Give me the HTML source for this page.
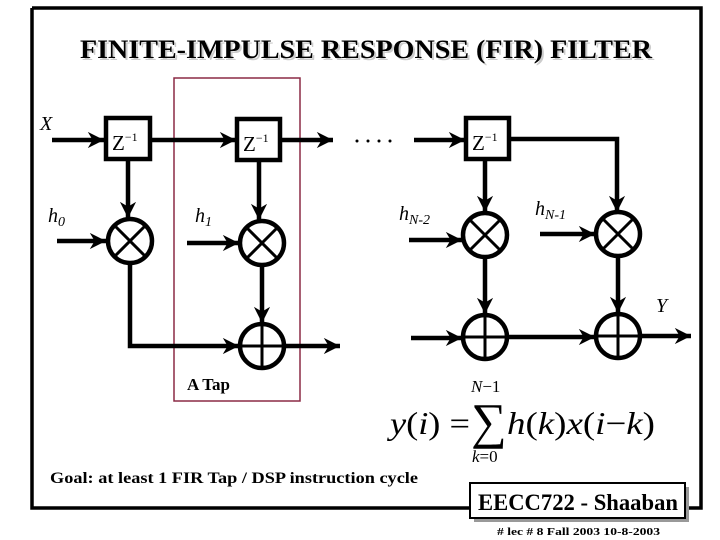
<!DOCTYPE html>
<html><head><meta charset="utf-8"><style>
html,body{margin:0;padding:0;background:#fff;}
svg{display:block;}
text{font-family:"Liberation Serif",serif;}
</style></head><body>
<svg width="720" height="540" viewBox="0 0 720 540" xmlns="http://www.w3.org/2000/svg">
<defs>
<marker id="ah" viewBox="0 0 10 10" refX="10" refY="5" markerWidth="4.2" markerHeight="3.6" markerUnits="strokeWidth" orient="auto">
<path d="M0,0 L10,5 L0,10 L3,5 z" fill="#000"/>
</marker>
</defs>
<path d="M32,8 H701 V508 H685 M470,508 H32 V8" fill="none" stroke="#000" stroke-width="3.5"/>
<text x="80" y="58" font-size="26" font-weight="bold" fill="#ccc" transform="translate(2,2)" textLength="572" lengthAdjust="spacingAndGlyphs">FINITE-IMPULSE RESPONSE (FIR) FILTER</text>
<text x="80" y="58" font-size="26" font-weight="bold" textLength="572" lengthAdjust="spacingAndGlyphs">FINITE-IMPULSE RESPONSE (FIR) FILTER</text>
<rect x="174" y="78" width="126" height="323" fill="none" stroke="#8b2a45" stroke-width="1.5"/>
<g stroke="#000" stroke-width="4.5" fill="none">
<line x1="52" y1="140" x2="104" y2="140" marker-end="url(#ah)"/>
<line x1="151" y1="140" x2="236" y2="140" marker-end="url(#ah)"/>
<line x1="280" y1="140" x2="333" y2="140" marker-end="url(#ah)"/>
<line x1="414" y1="140" x2="465" y2="140" marker-end="url(#ah)"/>
<polyline points="510,139 617,139 617,212" marker-end="url(#ah)"/>
<rect x="106" y="118" width="44" height="41" fill="#fff"/>
<rect x="237" y="119" width="43" height="41" fill="#fff"/>
<rect x="466" y="118" width="43" height="41" fill="#fff"/>
<line x1="128" y1="161" x2="128" y2="218" marker-end="url(#ah)"/>
<line x1="259" y1="162" x2="259" y2="220" marker-end="url(#ah)"/>
<line x1="485" y1="161" x2="485" y2="212" marker-end="url(#ah)"/>
<line x1="57" y1="241" x2="106" y2="241" marker-end="url(#ah)"/>
<line x1="187" y1="243" x2="239" y2="243" marker-end="url(#ah)"/>
<line x1="409" y1="240" x2="462" y2="240" marker-end="url(#ah)"/>
<line x1="540" y1="234" x2="595" y2="234" marker-end="url(#ah)"/>
<circle cx="130" cy="241" r="22" fill="#fff"/>
<circle cx="262" cy="243" r="22" fill="#fff"/>
<circle cx="485" cy="235" r="22" fill="#fff"/>
<circle cx="618" cy="234" r="22" fill="#fff"/>
<polyline points="130,263 130,346 239,346" marker-end="url(#ah)"/>
<line x1="262" y1="265" x2="262" y2="323" marker-end="url(#ah)"/>
<line x1="485" y1="257" x2="485" y2="314" marker-end="url(#ah)"/>
<line x1="618" y1="256" x2="618" y2="313" marker-end="url(#ah)"/>
<line x1="284" y1="346" x2="340" y2="346" marker-end="url(#ah)"/>
<line x1="411" y1="338" x2="462" y2="338" marker-end="url(#ah)"/>
<line x1="507" y1="337" x2="595" y2="337" marker-end="url(#ah)"/>
<line x1="640" y1="336" x2="691" y2="336" marker-end="url(#ah)"/>
<circle cx="262" cy="346" r="22" fill="#fff"/>
<circle cx="485" cy="337" r="22" fill="#fff"/>
<circle cx="618" cy="336" r="22" fill="#fff"/>
</g>
<g stroke="#000" stroke-width="3">
<path d="M115,226 L145,256 M145,226 L115,256"/>
<path d="M247,228 L277,258 M277,228 L247,258"/>
<path d="M470,220 L500,250 M500,220 L470,250"/>
<path d="M603,219 L633,249 M633,219 L603,249"/>
<path d="M262,324 V368 M240,346 H284"/>
<path d="M485,315 V359 M463,337 H507"/>
<path d="M618,314 V358 M596,336 H640"/>
</g>
<g fill="#000">
<circle cx="357" cy="141" r="1.5"/><circle cx="368" cy="141" r="1.5"/><circle cx="379" cy="141" r="1.5"/><circle cx="390" cy="141" r="1.5"/>
</g>
<g font-size="21">
<text x="112" y="150">Z<tspan font-size="12" dy="-9">−1</tspan></text>
<text x="243" y="151">Z<tspan font-size="12" dy="-9">−1</tspan></text>
<text x="472" y="150">Z<tspan font-size="12" dy="-9">−1</tspan></text>
</g>
<g font-size="20" font-style="italic">
<text x="40" y="130">X</text>
<text x="48" y="222">h<tspan font-size="14" dy="4">0</tspan></text>
<text x="195" y="222">h<tspan font-size="14" dy="4">1</tspan></text>
<text x="399" y="220">h<tspan font-size="14" dy="4">N-2</tspan></text>
<text x="535" y="215">h<tspan font-size="14" dy="4">N-1</tspan></text>
<text x="656" y="312">Y</text>
</g>
<text x="187" y="390" font-size="17" font-weight="bold">A Tap</text>
<text x="390" y="434" font-size="32" font-style="italic" textLength="80" lengthAdjust="spacingAndGlyphs">y<tspan font-style="normal">(</tspan>i<tspan font-style="normal">) =</tspan></text>
<text x="471" y="438" font-size="50">∑</text>
<text x="471" y="392" font-size="17" font-style="italic">N<tspan font-style="normal">−1</tspan></text>
<text x="472" y="462" font-size="17" font-style="italic">k<tspan font-style="normal">=0</tspan></text>
<text x="507" y="434" font-size="32" font-style="italic" textLength="148" lengthAdjust="spacingAndGlyphs">h<tspan font-style="normal">(</tspan>k<tspan font-style="normal">)</tspan>x<tspan font-style="normal">(</tspan>i<tspan font-style="normal">−</tspan>k<tspan font-style="normal">)</tspan></text>
<text x="50" y="483" font-size="16" font-weight="bold" textLength="368" lengthAdjust="spacingAndGlyphs">Goal:  at least 1 FIR Tap / DSP instruction cycle</text>
<rect x="474" y="487" width="215" height="35" fill="#999"/>
<rect x="470" y="483" width="215" height="35" fill="#fff" stroke="#000" stroke-width="2"/>
<text x="478" y="510" font-size="23" font-weight="bold" textLength="200" lengthAdjust="spacingAndGlyphs">EECC722 - Shaaban</text>
<text x="497" y="535" font-size="10" font-weight="bold" textLength="163" lengthAdjust="spacingAndGlyphs">#  lec # 8    Fall 2003    10-8-2003</text>
</svg>
</body></html>
